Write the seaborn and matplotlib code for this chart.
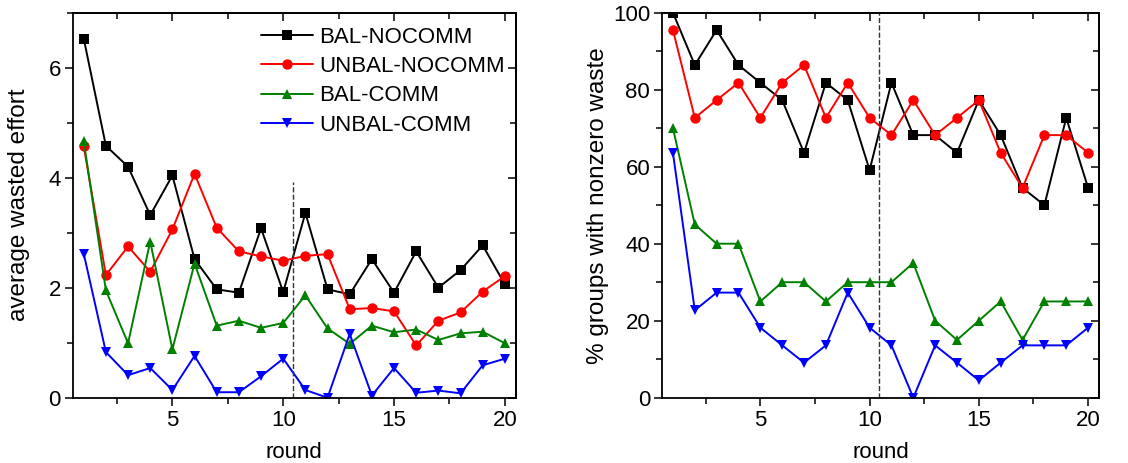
import numpy as np
import pandas as pd
from matplotlib import pyplot as plt
from matplotlib.ticker import MultipleLocator
import seaborn as sns

rounds = list(range(1, 21))
conditions = ["BAL-NOCOMM", "UNBAL-NOCOMM", "BAL-COMM", "UNBAL-COMM"]

# average wasted effort (left panel)
effort_bal_nocomm = [6.53, 4.58, 4.20, 3.32, 4.04, 2.52, 1.97, 1.91, 3.08, 1.92,
                     3.36, 1.97, 1.88, 2.52, 1.91, 2.66, 2.00, 2.32, 2.77, 2.06]
effort_unbal_nocomm = [4.57, 2.23, 2.75, 2.29, 3.06, 4.07, 3.09, 2.66, 2.57, 2.49,
                       2.58, 2.61, 1.61, 1.63, 1.57, 0.95, 1.40, 1.55, 1.93, 2.21]
effort_bal_comm = [4.67, 1.95, 0.99, 2.84, 0.88, 2.44, 1.31, 1.40, 1.27, 1.36,
                   1.86, 1.26, 0.98, 1.31, 1.19, 1.24, 1.05, 1.17, 1.20, 0.99]
effort_unbal_comm = [2.62, 0.83, 0.41, 0.54, 0.14, 0.76, 0.10, 0.10, 0.39, 0.71,
                     0.14, 0.00, 1.16, 0.04, 0.54, 0.09, 0.13, 0.08, 0.59, 0.71]

# % groups with nonzero waste (right panel)
pct_bal_nocomm = [100.0, 86.4, 95.5, 86.4, 81.8, 77.3, 63.6, 81.8, 77.3, 59.1,
                  81.8, 68.2, 68.2, 63.6, 77.3, 68.2, 54.5, 50.0, 72.7, 54.5]
pct_unbal_nocomm = [95.5, 72.7, 77.3, 81.8, 72.7, 81.8, 86.4, 72.7, 81.8, 72.7,
                    68.2, 77.3, 68.2, 72.7, 77.3, 63.6, 54.5, 68.2, 68.2, 63.6]
pct_bal_comm = [70, 45, 40, 40, 25, 30, 30, 25, 30, 30,
                30, 35, 20, 15, 20, 25, 15, 25, 25, 25]
pct_unbal_comm = [63.6, 22.7, 27.3, 27.3, 18.2, 13.6, 9.1, 13.6, 27.3, 18.2,
                  13.6, 0.0, 13.6, 9.1, 4.5, 9.1, 13.6, 13.6, 13.6, 18.2]

split_round = 10.43

def long_form(series):
    rows = []
    for cond, vals in zip(conditions, series):
        for r, v in zip(rounds, vals):
            rows.append((cond, r, v))
    return pd.DataFrame(rows, columns=["condition", "round", "value"])

df_effort = long_form([effort_bal_nocomm, effort_unbal_nocomm, effort_bal_comm, effort_unbal_comm])
df_pct = long_form([pct_bal_nocomm, pct_unbal_nocomm, pct_bal_comm, pct_unbal_comm])

sns.set_style("ticks")
plt.rcParams['font.family'] = ['Liberation Sans', 'DejaVu Sans']
plt.rcParams.update({"text.color": "black", "axes.labelcolor": "black",
                     "xtick.color": "black", "ytick.color": "black",
                     "axes.edgecolor": "black"})

palette = {"BAL-NOCOMM": "black", "UNBAL-NOCOMM": "#ff0000",
           "BAL-COMM": "#008000", "UNBAL-COMM": "#0000ff"}
markers = {"BAL-NOCOMM": "s", "UNBAL-NOCOMM": "o",
           "BAL-COMM": "^", "UNBAL-COMM": "v"}

fig = plt.figure(figsize=(11.28, 4.63), dpi=100)
ax1 = fig.add_axes([0.0644, 0.141, 0.393, 0.8316])
ax2 = fig.add_axes([0.5869, 0.141, 0.3874, 0.8316])

def style_axes(ax, ymajor, yminor):
    ax.set_xlim(0.5, 20.5)
    ax.xaxis.set_major_locator(MultipleLocator(5))
    ax.xaxis.set_minor_locator(MultipleLocator(2.5))
    ax.yaxis.set_major_locator(MultipleLocator(ymajor))
    ax.yaxis.set_minor_locator(MultipleLocator(yminor))
    ax.tick_params(which="both", direction="out", labelsize=16, width=1.1, pad=2.5,
                   colors="black")
    ax.tick_params(which="major", length=6)
    ax.tick_params(which="minor", length=4)
    for sp in ax.spines.values():
        sp.set_linewidth(1.3)
        sp.set_color("black")
    # mirrored ticks pointing into the plot on top and right
    top = ax.secondary_xaxis("top")
    top.xaxis.set_major_locator(MultipleLocator(5))
    top.xaxis.set_minor_locator(MultipleLocator(2.5))
    right = ax.secondary_yaxis("right")
    right.yaxis.set_major_locator(MultipleLocator(ymajor))
    right.yaxis.set_minor_locator(MultipleLocator(yminor))
    for sec in (top, right):
        sec.tick_params(which="both", direction="in", labeltop=False,
                        labelright=False, width=1.1, colors="black")
        sec.tick_params(which="major", length=6)
        sec.tick_params(which="minor", length=4)
        for sp in sec.spines.values():
            sp.set_linewidth(1.3)
            sp.set_color("black")

for ax, df in [(ax1, df_effort), (ax2, df_pct)]:
    sns.lineplot(data=df, x="round", y="value", hue="condition", style="condition",
                 markers=markers, dashes=False, palette=palette, hue_order=conditions,
                 style_order=conditions, linewidth=1.4, markersize=7.5,
                 markeredgewidth=0, ax=ax, legend=(ax is ax1))
    ax.set_xlabel("round", fontsize=16, labelpad=8)

ax1.set_ylim(0, 7)
style_axes(ax1, 2, 1)
ax1.set_ylabel("average wasted effort", fontsize=17.5, labelpad=13)
ax1.plot([split_round, split_round], [0, 3.93], color="#333333", linestyle="--", linewidth=1)

ax2.set_ylim(0, 100)
style_axes(ax2, 20, 10)
ax2.set_ylabel("% groups with nonzero waste", fontsize=17.5, labelpad=3)
ax2.axvline(split_round, color="#333333", linestyle="--", linewidth=1)

handles, labels = ax1.get_legend_handles_labels()
ax1.legend(handles, labels, loc="upper right", frameon=False, fontsize=16,
           handlelength=2.3, handletextpad=0.3, labelspacing=0.38,
           borderaxespad=0.0, bbox_to_anchor=(0.995, 0.987))

fig.savefig("out.png", dpi=100)
